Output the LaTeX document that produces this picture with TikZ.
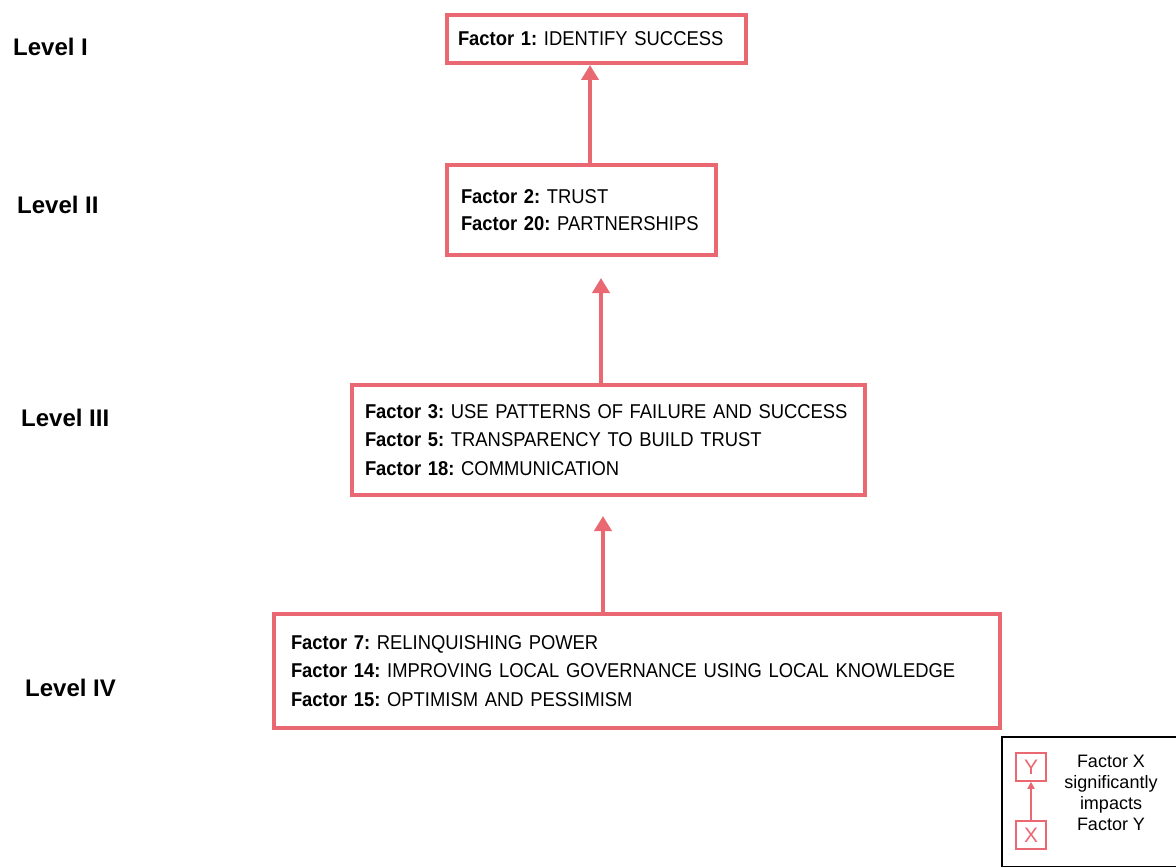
\documentclass[tikz,border=0pt]{standalone}
\usepackage{fontspec}
\setmainfont{Liberation Sans}
\newfontfamily\boxfont[FakeStretch=0.92]{Liberation Sans}
\usetikzlibrary{arrows.meta}
\definecolor{boxred}{RGB}{234,104,114}
\begin{document}
\begin{tikzpicture}[x=1pt,y=1pt,
  level/.style={font=\fontsize{24}{28}\selectfont\bfseries, anchor=west, inner sep=0pt},
  factorbox/.style={draw=boxred, line width=4pt, align=left, inner ysep=0pt,
    font=\boxfont\fontsize{20}{28.5}\selectfont\frenchspacing},
  arr/.style={draw=boxred, line width=4pt, -{Triangle[width=17pt,length=15pt]}},
  legbox/.style={draw=boxred, line width=1.5pt, minimum width=30pt, minimum height=28pt, inner sep=0pt,
    text=boxred, font=\fontsize{21}{22}\selectfont}
]
\useasboundingbox (0,0) rectangle (1176,-867);
% level labels
\node[level] (l1) at (13,-47) {Level I};
\node[level] (l2) at (17,-205) {Level II};
\node[level] (l3) at (21,-418) {Level III};
\node[level] (l4) at (25,-688) {Level IV};
% boxes
\node[factorbox, minimum width=299pt, minimum height=48pt, text width=277pt, inner xsep=11pt] (b1) at (596.5,-39)
  {\mbox{\textbf{Factor 1:} IDENTIFY SUCCESS}};
\node[factorbox, minimum width=269pt, minimum height=90pt, text width=241pt, inner xsep=14pt] (b2) at (581.5,-210)
  {\mbox{\textbf{Factor 2:} TRUST}\\[-2pt] \mbox{\textbf{Factor 20:} PARTNERSHIPS}};
\node[factorbox, minimum width=513pt, minimum height=110pt, text width=487pt, inner xsep=13pt] (b3) at (608.5,-440)
  {\mbox{\textbf{Factor 3:} USE PATTERNS OF FAILURE AND SUCCESS}\\ \mbox{\textbf{Factor 5:} TRANSPARENCY TO BUILD TRUST}\\ \mbox{\textbf{Factor 18:} COMMUNICATION}};
\node[factorbox, minimum width=726pt, minimum height=114pt, text width=692pt, inner xsep=17pt] (b4) at (637,-671)
  {\mbox{\textbf{Factor 7:} RELINQUISHING POWER}\\ \mbox{\textbf{Factor 14:} IMPROVING LOCAL GOVERNANCE USING LOCAL KNOWLEDGE}\\ \mbox{\textbf{Factor 15:} OPTIMISM AND PESSIMISM}};
% arrows
\coordinate (t2) at (601,-278);
\coordinate (t3) at (603,-516);
\draw[arr] ([xshift=8.5pt]b2.north) -- ([xshift=-6.5pt]b1.south);
\draw[arr] ([xshift=-7.5pt]b3.north) -- (t2);
\draw[arr] ([xshift=-34pt]b4.north) -- (t3);
% legend
\node[draw=black, line width=1.2pt, minimum width=176pt, minimum height=130pt, inner sep=0pt] (leg) at (1090,-802) {};
\node[legbox] (ly) at (1031,-767) {Y};
\node[legbox] (lx) at (1031,-835) {X};
\draw[draw=boxred, line width=1.5pt, -{Triangle[width=7pt,length=7pt]}] (lx.north) -- (ly.south);
\node[align=center, font=\fontsize{18}{21}\selectfont, inner sep=0pt] (legt) at (1111,-793)
  {Factor X\\ significantly\\ impacts\\ Factor Y};
\end{tikzpicture}
\end{document}
